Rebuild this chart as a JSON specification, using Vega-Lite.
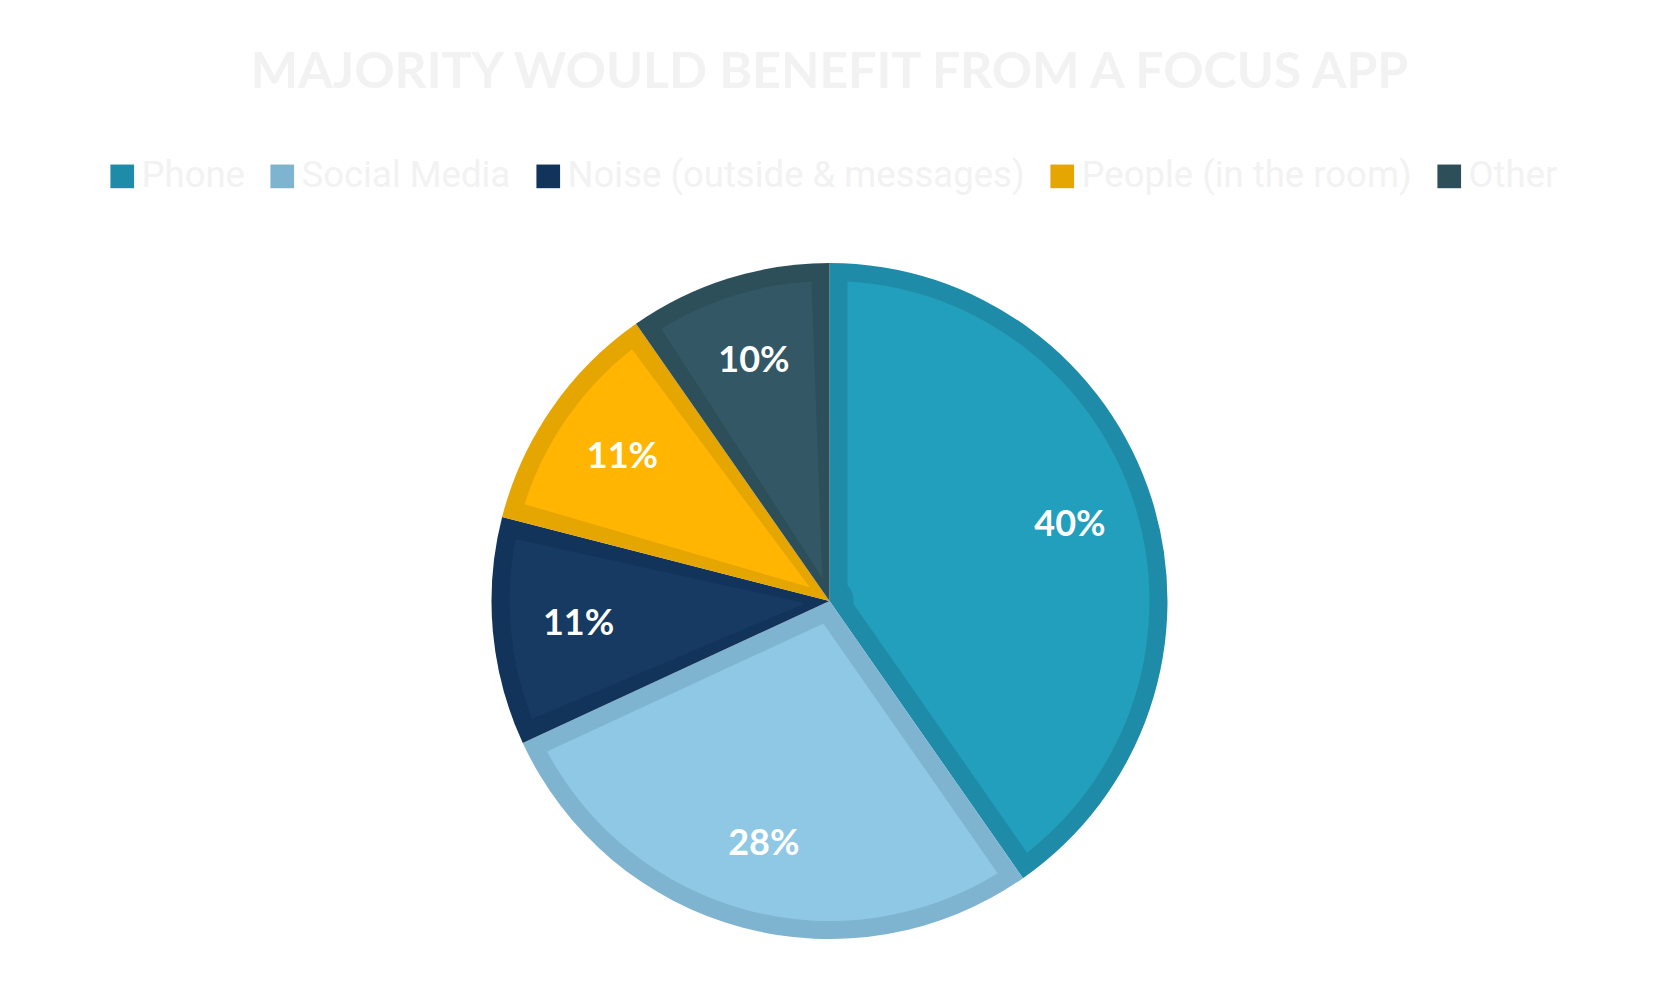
{
  "$schema": "https://vega.github.io/schema/vega-lite/v6.json",
  "width": 1659,
  "height": 782,
  "autosize": {"type": "none"},
  "padding": {"top": 210, "left": 0, "right": 0, "bottom": 0},
  "background": "#FFFFFF",
  "title": {
    "text": "MAJORITY WOULD BENEFIT FROM A FOCUS APP",
    "anchor": "middle",
    "frame": "group",
    "font": "Lato",
    "fontSize": 50,
    "fontWeight": "bold",
    "color": "#F2F2F2",
    "offset": 60
  },
  "data": {
    "values": [
      {"cat": "Phone", "share": 0.403, "order": 1},
      {"cat": "Social Media", "share": 0.278, "order": 2},
      {"cat": "Noise (outside & messages)", "share": 0.109, "order": 3},
      {"cat": "People (in the room)", "share": 0.113, "order": 4},
      {"cat": "Other", "share": 0.097, "order": 5}
    ]
  },
  "encoding": {
    "theta": {"field": "share", "type": "quantitative", "stack": true},
    "order": {"field": "order", "type": "quantitative"}
  },
  "layer": [
    {
      "mark": {"type": "arc", "radius": 338, "stroke": null},
      "encoding": {
        "color": {
          "field": "cat",
          "type": "nominal",
          "scale": {
            "domain": ["Phone", "Social Media", "Noise (outside & messages)", "People (in the room)", "Other"],
            "range": ["#1E8CA8", "#7FB4D0", "#12345A", "#E6A602", "#2D4F5A"]
          },
          "legend": {"title": null}
        }
      }
    },
    {
      "mark": {"type": "arc", "radius": 320, "innerRadius": 24, "padAngle": 0.112, "stroke": null},
      "encoding": {
        "fill": {
          "field": "cat",
          "type": "nominal",
          "scale": {
            "domain": ["Phone", "Social Media", "Noise (outside & messages)", "People (in the room)", "Other"],
            "range": ["#219FBD", "#8FC8E4", "#163A62", "#FFB502", "#335764"]
          },
          "legend": null
        }
      }
    },
    {
      "mark": {"type": "text", "radius": 252, "font": "Lato", "fontWeight": "bold", "fontSize": 36, "color": "#FFFFFF"},
      "encoding": {
        "text": {"field": "share", "type": "quantitative", "format": ".0%"}
      }
    }
  ],
  "config": {
    "view": {"stroke": null},
    "legend": {
      "orient": "none",
      "legendX": 104,
      "legendY": -52,
      "direction": "horizontal",
      "columns": 5,
      "padding": 0,
      "symbolType": "square",
      "symbolSize": 560,
      "symbolStrokeWidth": 0,
      "symbolOpacity": 1,
      "labelFont": "Roboto",
      "labelFontSize": 36.5,
      "labelColor": "#F2F2F2",
      "labelOffset": 1,
      "labelLimit": 0,
      "columnPadding": 19
    }
  }
}
